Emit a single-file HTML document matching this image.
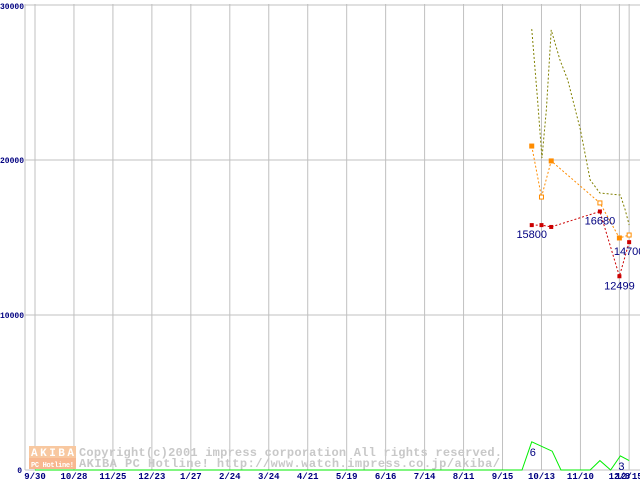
<!DOCTYPE html>
<html><head><meta charset="utf-8"><style>
body{margin:0;background:#fff;}
svg{display:block;font-family:"Liberation Mono",monospace;}
</style></head><body>
<svg id="chart" width="640" height="480" viewBox="0 0 640 480">
<g id="grid"></g>
<g id="wm">
<rect x="29" y="446" width="47" height="12" fill="#f8c8a0"/>
<rect x="29" y="458" width="47" height="11" fill="#f8b890"/>
<text x="31" y="456" font-size="11" font-weight="bold" fill="#fff" textLength="43">AKIBA</text>
<text x="31" y="467" font-size="7" font-weight="bold" fill="#fff" textLength="43">PC Hotline!</text>
<text x="79" y="456" font-size="12" font-weight="bold" fill="#c8c8c8" textLength="423">Copyright(c)2001 impress corporation All rights reserved.</text>
<text x="79" y="467" font-size="12" font-weight="bold" fill="#c8c8c8" textLength="421">AKIBA PC Hotline!  http://www.watch.impress.co.jp/akiba/</text>
</g>
<g id="series"></g>
</svg>
<script>
const xTickLabels=["9/30","10/28","11/25","12/23","1/27","2/24","3/24","4/21","5/19","6/16","7/14","8/11","9/15","10/13","11/10","12/8","12/15"];
const xTickWeeks=[0,4,8,12,16,20,24,28,32,36,40,44,48,52,56,60,61];
const yTicks=[0,10000,20000,30000];
const oliveWeeks=[51,51.6,52.05,52.5,53,53.9,54.7,56,57,58,60.1,60.6,61];
const oliveValues=[28450,23870,20130,23230,28390,26450,25160,21940,18710,17870,17740,16770,15810];
const orangeWeeks=[51,52,53,58,60,61];
const orangeValues=[20900,17610,19940,17230,14970,15160];
const redWeeks=[51,52,53,58,60,61];
const redValues=[15800,15800,15680,16680,12499,14700];
const redLabels=["15800","","","16680","12499","14700"];
const greenWeeks=[0,50,51,53.1,54,57,58,59.1,60.1,61];
const greenValues=[0,0,6,4,0,0,2,0,3,2];
const greenLabels=["","","6","","","","","","3",""];

const NS="http://www.w3.org/2000/svg";
const xs=w=>35+w*9.74;
const Y=v=>470-v/10000*155;
const YG=v=>470-v*4.7;
function mk(tag,attrs,parent){const e=document.createElementNS(NS,tag);for(const k in attrs)e.setAttribute(k,attrs[k]);parent.appendChild(e);return e;}
const grid=document.getElementById('grid'),ser=document.getElementById('series');
yTicks.forEach((v,i)=>{
  const l=mk('line',{x1:25,x2:640,y1:Y(v),y2:Y(v),stroke:'#c0c0c0','stroke-width':1},grid);
  
  
  const t=mk('text',{x:v===0?22:0,y:Y(v)+(v===30000?4:3),'font-size':8,'font-weight':'bold',fill:'#000080','text-anchor':v===0?'end':'start'},grid);
  t.textContent=String(v);
  
  
});
mk('line',{x1:25,x2:25,y1:4,y2:470,stroke:'#c0c0c0'},grid);
xTickWeeks.forEach((w,i)=>{
  const x=xs(w);
  const l=mk('line',{x1:x,x2:x,y1:4,y2:470,stroke:'#c0c0c0'},grid);
  
  
  const t=mk('text',{x:x,y:479,'font-size':9,'font-weight':'bold',fill:'#000080','text-anchor':'middle'},grid);
  t.textContent=xTickLabels[i];
  
  
});
function line(ws,vs,yf,color,dash,name){
  const p=mk('polyline',{points:ws.map((w,i)=>xs(w)+','+yf(vs[i])).join(' '),fill:'none',stroke:color,'stroke-width':1,'stroke-dasharray':dash||''},ser);
  
  
}
line(oliveWeeks,oliveValues,Y,'#808000','2,2','olive-series-line');
line(orangeWeeks,orangeValues,Y,'#ff8c00','2,2','orange-series-line');
orangeWeeks.forEach((w,i)=>{const r=mk('rect',{x:xs(w)-2,y:Y(orangeValues[i])-2,width:4,height:4,fill:i%2?'#fff':'#ff8c00',stroke:'#ff8c00'},ser);

});
line(redWeeks,redValues,Y,'#cc0000','2,2','red-series-line');
redWeeks.forEach((w,i)=>{const r=mk('rect',{x:xs(w)-2,y:Y(redValues[i])-2,width:4,height:4,fill:'#cc0000'},ser);


if(redLabels[i]){const t=mk('text',{x:xs(w),y:Y(redValues[i])+13,'font-size':11,fill:'#000080','text-anchor':'middle','font-family':'Liberation Sans, sans-serif'},ser);
t.textContent=redLabels[i];

}});
line(greenWeeks,greenValues,YG,'#00ee00','','green-series-line');
greenWeeks.forEach((w,i)=>{if(greenLabels[i]){const t=mk('text',{x:xs(w)-2,y:YG(greenValues[i])+14,'font-size':11,fill:'#000080','font-family':'Liberation Sans, sans-serif'},ser);
t.textContent=greenLabels[i];

}});
</script>
</body></html>
